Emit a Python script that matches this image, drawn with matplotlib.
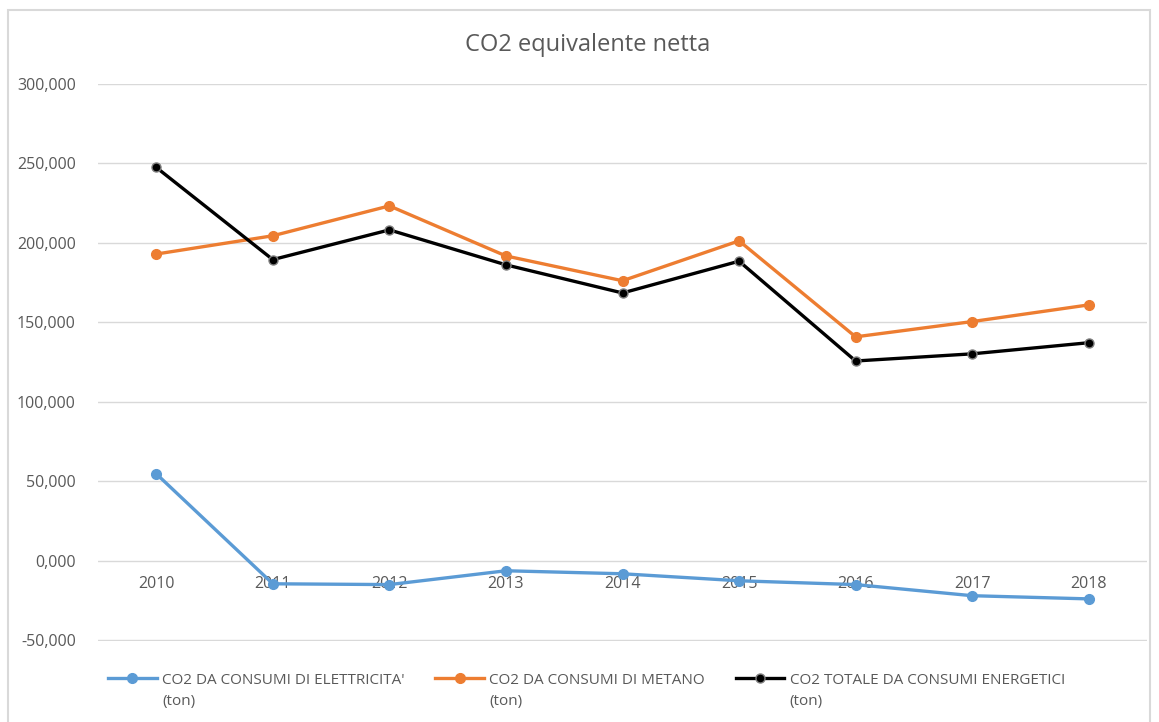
import matplotlib.pyplot as plt
import matplotlib.patches as pts
from matplotlib.ticker import FuncFormatter

years = ['2010', '2011', '2012', '2013', '2014', '2015', '2016', '2017', '2018']
elettricita = [54700, -14500, -15000, -6300, -8200, -12600, -15000, -22000, -24000]
metano = [193000, 204500, 223300, 191800, 176200, 201300, 140900, 150500, 161000]
totale = [247500, 189500, 208200, 186200, 168500, 188500, 125700, 130200, 137200]

labels = ["CO2 DA CONSUMI DI ELETTRICITA'",
          "CO2 DA CONSUMI DI METANO",
          "CO2 TOTALE DA CONSUMI ENERGETICI"]
unit = '(ton)'

plt.rcParams['font.family'] = ['Open Sans', 'DejaVu Sans']
grey = '#595959'

fig = plt.figure(figsize=(11.59, 7.22), dpi=100)
ax = fig.add_axes([98/1159, 1-641/722, (1147-98)/1159, (641-84)/722])

x = range(len(years))
ax.plot(x, elettricita, color='#5B9BD5', lw=2.4, marker='o', ms=7, label=labels[0])
ax.plot(x, metano, color='#ED7D31', lw=2.4, marker='o', ms=7, label=labels[1])
ax.plot(x, totale, color='black', lw=2.4, marker='o', ms=6.5,
        mec='#7f7f7f', mew=1, label=labels[2])

ax.set_xlim(-0.5, len(years)-0.5)
ax.set_ylim(-50500, 300000)
ax.set_yticks(range(-50000, 300001, 50000))
ax.yaxis.set_major_formatter(FuncFormatter(lambda v, p: f"{v/1000:.3f}".replace('.', ',')))
ax.grid(axis='y', color='#d9d9d9', lw=1)
ax.set_axisbelow(True)
for s in ax.spines.values():
    s.set_visible(False)
ax.spines['bottom'].set_position(('data', 0))
ax.set_xticks(list(x))
ax.set_xticklabels(years)
ax.tick_params(axis='both', length=0, colors=grey, labelsize=11.5)
ax.tick_params(axis='x', pad=11)
ax.tick_params(axis='y', pad=16)

fig.text(588/1159, 1-45/722, 'CO2 equivalente netta', ha='center', va='center',
         fontsize=17, color=grey)

leg = fig.legend(loc='center left', bbox_to_anchor=(94/1159, 1-680/722), ncol=3,
                 frameon=False, fontsize=11, handlelength=3.2, columnspacing=2.0,
                 handletextpad=0.35)
for t in leg.get_texts():
    t.set_color(grey)

# second line of each legend label, under the first one
fig.canvas.draw()
inv = fig.transFigure.inverted()
for t in leg.get_texts():
    bb = t.get_window_extent()
    x0, y0 = inv.transform((bb.x0, bb.y0))
    fig.text(x0, y0 - 7/722, unit, ha='left', va='top', fontsize=11, color=grey)

fig.patches.append(pts.Rectangle((8/1159, -0.05), (1150-8)/1159, 1.05-10/722,
                                 transform=fig.transFigure, fill=False,
                                 edgecolor='#d9d9d9', lw=1.5))

fig.savefig('out.png', dpi=100)
